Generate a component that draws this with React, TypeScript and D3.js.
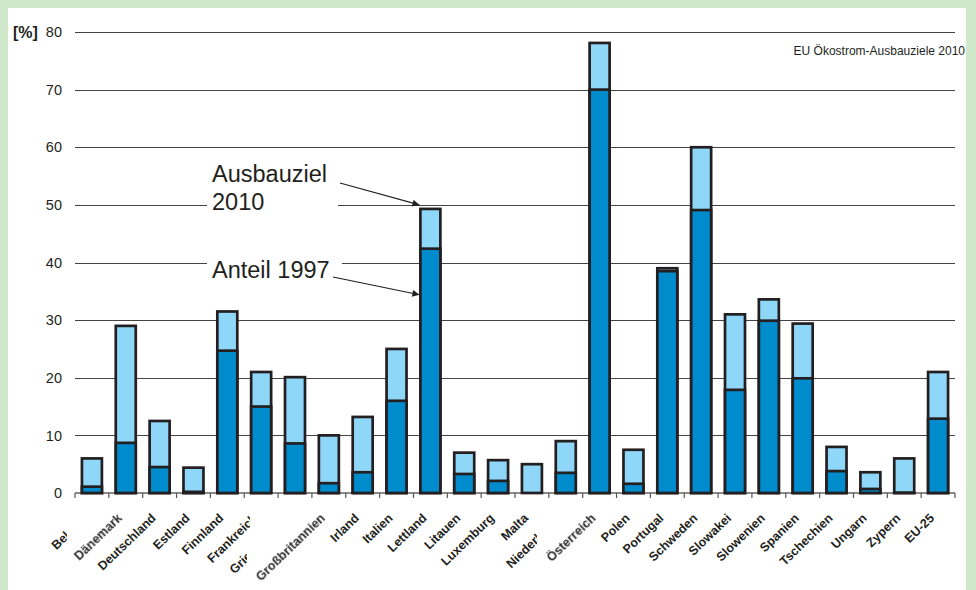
import { useEffect, useRef } from 'react'
import * as d3 from 'd3'

// Länder (Reihenfolge wie im Original)
const countries = [
  'Belgien', 'Dänemark', 'Deutschland', 'Estland', 'Finnland', 'Frankreich',
  'Griechenland', 'Großbritannien', 'Irland', 'Italien', 'Lettland', 'Litauen',
  'Luxemburg', 'Malta', 'Niederlande', 'Österreich', 'Polen', 'Portugal',
  'Schweden', 'Slowakei', 'Slowenien', 'Spanien', 'Tschechien', 'Ungarn',
  'Zypern', 'EU-25',
]
// Anteil 1997 [%]
const share1997 = [
  1.1, 8.7, 4.5, 0.2, 24.7, 15.0, 8.6, 1.7, 3.6, 16.0, 42.4, 3.3, 2.1, 0.0,
  3.5, 70.0, 1.6, 38.5, 49.1, 17.9, 29.9, 19.9, 3.8, 0.7, 0.05, 12.9,
]
// Ausbauziel 2010 [%]
const target2010 = [
  6.0, 29.0, 12.5, 4.4, 31.5, 21.0, 20.1, 10.0, 13.2, 25.0, 49.3, 7.0, 5.7, 5.0,
  9.0, 78.1, 7.5, 39.0, 60.0, 31.0, 33.6, 29.4, 8.0, 3.6, 6.0, 21.0,
]
const yTicks = [0, 10, 20, 30, 40, 50, 60, 70, 80]

// labels that are cut off in the original (clip edge, px)
const labelClip: Record<string, number> = {
  Belgien: 67, Frankreich: 250, Griechenland: 247, Niederlande: 537,
}
const blurredLabels = ['Dänemark', 'Großbritannien', 'Österreich']

const W = 976
const H = 590
const DARK = '#008bcd'
const LIGHT = '#8fd7f8'
const INK = '#231f20'
const FONT = '"Liberation Sans", Arial, sans-serif'

export default function App() {
  const ref = useRef<SVGSVGElement | null>(null)

  useEffect(() => {
    if (!ref.current) return
    const svg = d3.select(ref.current)
    svg.selectAll('*').remove()

    const x = d3.scaleBand<string>().domain(countries).range([75, 955]).paddingInner(0.41).paddingOuter(0.205)
    const y = d3.scaleLinear().domain([0, 80]).range([493, 32])
    const step = x.step()
    const x0 = 75

    const defs = svg.append('defs')
    defs.append('filter').attr('id', 'soft')
      .append('feGaussianBlur').attr('stdDeviation', 0.55)
    defs.append('marker')
      .attr('id', 'arrow').attr('viewBox', '0 0 10 10')
      .attr('refX', 10).attr('refY', 5)
      .attr('markerWidth', 11).attr('markerHeight', 7)
      .attr('markerUnits', 'userSpaceOnUse')
      .attr('orient', 'auto')
      .append('path').attr('d', 'M0,0 L10,5 L0,10 z').attr('fill', INK)

    // frame
    svg.append('rect').attr('width', W).attr('height', H).attr('fill', '#cfe8c9')
    svg.append('rect').attr('x', 8).attr('y', 8).attr('width', 958).attr('height', H - 8).attr('fill', '#fff')

    // grid
    svg.append('g').selectAll('line').data(yTicks.filter((t) => t > 0)).join('line')
      .attr('x1', 75).attr('x2', 955)
      .attr('y1', (d) => Math.round(y(d)) + 0.5).attr('y2', (d) => Math.round(y(d)) + 0.5)
      .attr('stroke', '#444').attr('stroke-width', 1.2)

    // y labels
    svg.append('g').selectAll('text').data(yTicks).join('text')
      .attr('x', 62).attr('y', (d) => y(d)).attr('dy', '0.36em')
      .attr('text-anchor', 'end').attr('font-family', FONT).attr('font-size', 14.5)
      .attr('fill', INK).text((d) => d)
    svg.append('text').attr('x', 13).attr('y', y(80)).attr('dy', '0.36em')
      .attr('font-family', FONT).attr('font-size', 16).attr('font-weight', 'bold')
      .attr('fill', INK).text('[%]')

    // title
    svg.append('text').attr('x', 965).attr('y', 55).attr('text-anchor', 'end')
      .attr('font-family', FONT).attr('font-size', 12).attr('fill', INK)
      .text('EU Ökostrom-Ausbauziele 2010')

    // annotation
    const ann = svg.append('g').attr('font-family', FONT).attr('font-size', 23.5).attr('fill', INK)
    ann.append('rect').attr('x', 207).attr('y', 160).attr('width', 131).attr('height', 56).attr('fill', '#fff')
    ann.append('rect').attr('x', 207).attr('y', 256).attr('width', 135).attr('height', 26).attr('fill', '#fff')
    ann.append('text').attr('x', 212).attr('y', 182).text('Ausbauziel')
    ann.append('text').attr('x', 212).attr('y', 210).text('2010')
    ann.append('text').attr('x', 212).attr('y', 278).text('Anteil 1997')
    const lx = (x('Lettland') ?? 0) - 1
    svg.append('line').attr('x1', 340).attr('y1', 183).attr('x2', lx).attr('y2', y(50))
      .attr('stroke', INK).attr('stroke-width', 1.2).attr('marker-end', 'url(#arrow)')
    svg.append('line').attr('x1', 333).attr('y1', 277).attr('x2', lx).attr('y2', y(34.4))
      .attr('stroke', INK).attr('stroke-width', 1.2).attr('marker-end', 'url(#arrow)')

    // x axis
    svg.append('line').attr('x1', 75).attr('x2', 955).attr('y1', y(0)).attr('y2', y(0))
      .attr('stroke', '#8a8a8a').attr('stroke-width', 2)
    svg.append('g').selectAll('line').data(d3.range(countries.length + 1)).join('line')
      .attr('x1', (i) => x0 + i * step).attr('x2', (i) => x0 + i * step)
      .attr('y1', y(0)).attr('y2', y(0) + 5)
      .attr('stroke', '#555').attr('stroke-width', 1.2)

    // bars
    const bars = svg.append('g').attr('stroke', INK).attr('stroke-width', 2.7)
    bars.selectAll('rect.t').data(countries).join('rect').attr('class', 't')
      .attr('x', (d) => x(d) ?? 0).attr('width', x.bandwidth())
      .attr('y', (_, i) => y(target2010[i])).attr('height', (_, i) => y(0) - y(target2010[i]))
      .attr('fill', LIGHT)
    bars.selectAll('rect.s').data(countries).join('rect').attr('class', 's')
      .attr('x', (d) => x(d) ?? 0).attr('width', x.bandwidth())
      .attr('y', (_, i) => y(share1997[i])).attr('height', (_, i) => y(0) - y(share1997[i]))
      .attr('fill', DARK)

    // x labels
    Object.entries(labelClip).forEach(([, cx], i) => {
      defs.append('clipPath').attr('id', `lc${i}`)
        .append('rect').attr('x', 0).attr('y', 0).attr('width', cx).attr('height', H)
    })
    const clipIds = Object.keys(labelClip)
    svg.append('g').selectAll('g').data(countries).join('g')
      .attr('clip-path', (d) => (clipIds.includes(d) ? `url(#lc${clipIds.indexOf(d)})` : null))
      .append('text')
      .attr('transform', (d) => `translate(${(x(d) ?? 0) + x.bandwidth() / 2 - 3},${y(0) + 26}) rotate(-44)`)
      .attr('text-anchor', 'end').attr('font-family', FONT).attr('font-size', 12.5)
      .attr('font-weight', 'bold')
      .attr('fill', (d) => (blurredLabels.includes(d) ? '#2a2a2a' : INK))
      .attr('filter', (d) => (blurredLabels.includes(d) ? 'url(#soft)' : null))
      .text((d) => d)
  }, [])

  return (
    <div style={{ position: 'fixed', left: 0, top: 0, width: W, height: H }}>
      <svg ref={ref} width={W} height={H} style={{ display: 'block' }} />
    </div>
  )
}
